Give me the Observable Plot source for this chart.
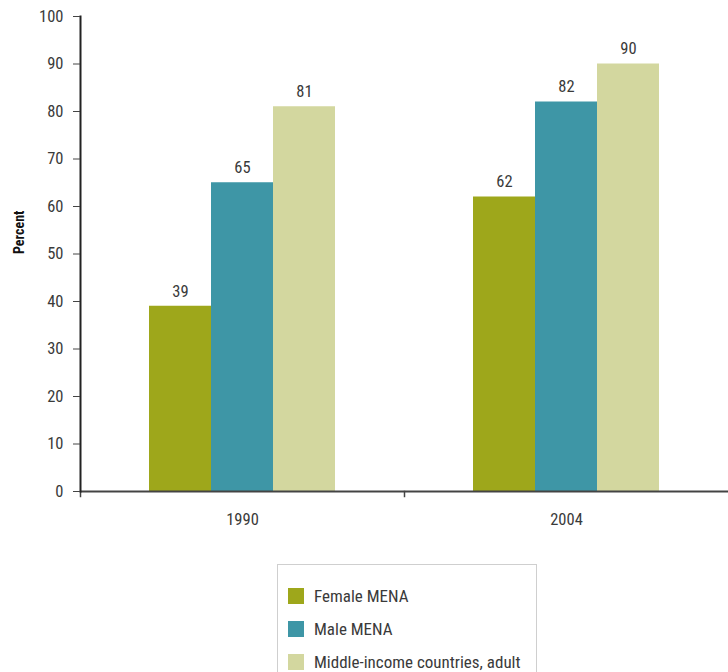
<!DOCTYPE html>
<html>
<head>
<meta charset="utf-8">
<script src="https://cdn.jsdelivr.net/npm/d3@7"></script>
<script src="https://cdn.jsdelivr.net/npm/@observablehq/plot@0.6"></script>
<style>
  body { margin: 0; background: #fff; font-family: "Liberation Sans Narrow", "Roboto Condensed", Roboto, sans-serif; }
  #legend { margin-left: 277px; margin-top: 19px; width: 260px; height: 120px; border: 1px solid #cfcfcf; box-sizing: border-box; padding-top: 14px; }
  .row { display: flex; align-items: center; height: 33px; padding-left: 10px; font-size: 17px; color: #3a3a3a; }
  .sw { width: 16px; height: 16px; margin-right: 10px; }
</style>
</head>
<body>
<div id="chart"></div>
<div id="legend"></div>
<script>
const years = ["1990", "2004"];
const series = ["Female MENA", "Male MENA", "Middle-income countries, adult"];
const female = [39, 62];
const male = [65, 82];
const middle = [81, 90];
const colors = ["#9ea71b", "#3e96a6", "#d3d79f"];
const yTicks = [0, 10, 20, 30, 40, 50, 60, 70, 80, 90, 100];

const values = [female, male, middle];
const data = [];
years.forEach((yr, i) => series.forEach((s, j) => data.push({year: yr, series: s, value: values[j][i]})));

const font = '"Liberation Sans Narrow", "Roboto Condensed", Roboto, sans-serif';

const chart = Plot.plot({
  width: 728,
  height: 545,
  marginLeft: 79,
  marginRight: 0,
  marginTop: 16,
  marginBottom: 54,
  style: {fontFamily: font, fontSize: "16.5px", color: "#3a3a3a", background: "#fff"},
  fx: {domain: years, padding: 0, label: null},
  x: {domain: series, paddingInner: 0, paddingOuter: 1.075, axis: null},
  y: {domain: [0, 100], axis: null},
  color: {domain: series, range: colors},
  marks: [
    Plot.barY(data, {fx: "year", x: "series", y: "value", fill: "series"}),
    Plot.text(data, {fx: "year", x: "series", y: "value", text: d => String(d.value), dy: -15, fontSize: 16.5, fill: "#3a3a3a"}),
    Plot.ruleY([0], {stroke: "#444", strokeWidth: 2}),
    Plot.frame({anchor: "left", stroke: "#444", strokeWidth: 1.5, insetTop: 475, insetBottom: -5}),
    Plot.frame({anchor: "left", facetAnchor: "left", stroke: "#222", strokeWidth: 2}),
    Plot.axisY({ticks: yTicks, tickSize: 7, tickPadding: 10, label: null, stroke: "#444", fontSize: 16.5, facetAnchor: "left"}),
    Plot.axisFx({anchor: "bottom", tickSize: 0, tickPadding: 22, label: null, fontSize: 16.5}),
    Plot.text(["Percent"], {frameAnchor: "left", dx: -61, rotate: -90, fontWeight: "bold", fontSize: 14, fill: "#111", facetAnchor: "left"})
  ]
});
document.getElementById("chart").appendChild(chart);

const legend = document.getElementById("legend");
series.forEach((s, j) => {
  const row = document.createElement("div");
  row.className = "row";
  const sw = document.createElement("div");
  sw.className = "sw";
  sw.style.background = colors[j];
  const t = document.createElement("span");
  t.textContent = s;
  row.appendChild(sw);
  row.appendChild(t);
  legend.appendChild(row);
});
</script>
</body>
</html>
